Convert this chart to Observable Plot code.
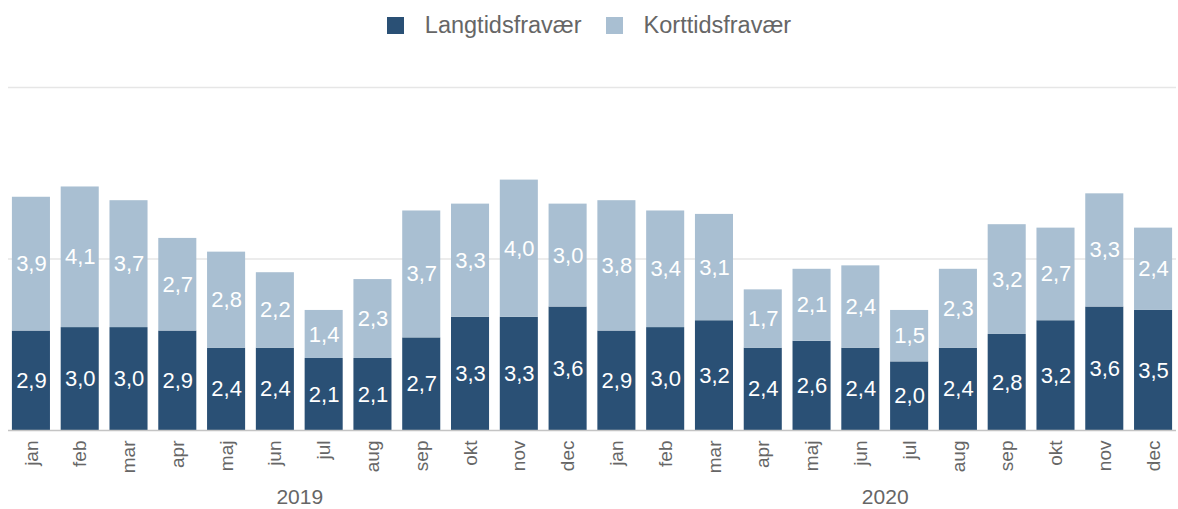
<!DOCTYPE html>
<html><head><meta charset="utf-8">
<script src="https://cdn.jsdelivr.net/npm/d3@7"></script>
<script src="https://cdn.jsdelivr.net/npm/@observablehq/plot@0.6"></script>
<style>
body{margin:0;background:#fff;font-family:"Liberation Sans",Arial,sans-serif;}
#legend{height:50px;display:flex;justify-content:center;align-items:center;gap:24px;font-size:23.5px;color:#666;}
.item{display:flex;align-items:center;gap:21px}
.sw{width:17px;height:17px;display:inline-block}
</style></head><body>
<div id="legend"></div><div id="chart"></div>
<script>
const years = ["2019", "2020"];
const months = ["jan","feb","mar","apr","maj","jun","jul","aug","sep","okt","nov","dec"];
const series = ["Langtidsfravær", "Korttidsfravær"];
const colors = ["#2a5075", "#a9bfd2"];
const long2019  = [2.9,3.0,3.0,2.9,2.4,2.4,2.1,2.1,2.7,3.3,3.3,3.6];
const short2019 = [3.9,4.1,3.7,2.7,2.8,2.2,1.4,2.3,3.7,3.3,4.0,3.0];
const long2020  = [2.9,3.0,3.2,2.4,2.6,2.4,2.0,2.4,2.8,3.2,3.6,3.5];
const short2020 = [3.8,3.4,3.1,1.7,2.1,2.4,1.5,2.3,3.2,2.7,3.3,2.4];
const gridTicks = [5, 10];

const valuesBy = {"2019": [long2019, short2019], "2020": [long2020, short2020]};
const keys = [];
const data = [];
for (const y of years) {
  months.forEach((m, i) => {
    const key = y + "-" + m;
    keys.push(key);
    series.forEach((s, j) => data.push({key, year: y, month: m, series: s, value: valuesBy[y][j][i]}));
  });
}
const fmt = v => d3.format(".1f")(v).replace(".", ",");

// legend
const lg = document.getElementById("legend");
series.forEach((s, i) => {
  const it = document.createElement("div"); it.className = "item";
  const sw = document.createElement("span"); sw.className = "sw"; sw.style.background = colors[i];
  const tx = document.createElement("span"); tx.textContent = s;
  it.append(sw, tx); lg.append(it);
});

const W = 1178, H = 459, mL = 8, mR = 2, pI = 0.22, pO = 0.08;
const step = d3.scaleBand().domain(keys).range([mL, W - mR]).paddingInner(pI).paddingOuter(pO).step();

const chart = Plot.plot({
  width: W, height: H,
  marginTop: 37, marginBottom: 79, marginLeft: mL, marginRight: mR,
  style: {fontFamily: "Liberation Sans, Arial, sans-serif", background: "#fff"},
  x: {domain: keys, paddingInner: pI, paddingOuter: pO, round: false},
  y: {domain: [0, 10], axis: null},
  color: {domain: series, range: colors},
  marks: [
    Plot.gridY(gridTicks, {stroke: "#e6e6e6", strokeOpacity: 1, strokeWidth: 1.5}),
    Plot.barY(data, {x: "key", y: "value", fill: "series", order: series}),
    Plot.text(data, Plot.stackY({x: "key", y: "value", z: "series", order: series,
      text: d => fmt(d.value), fill: "white", fontSize: 22})),
    Plot.ruleY([0], {stroke: "#c4c4c4", strokeWidth: 1.5}),
    Plot.axisX({tickFormat: k => k.split("-")[1], tickRotate: -90, tickSize: 0, tickPadding: 10,
      fontSize: 19, fill: "#666", label: null}),
    Plot.text(years, {x: y => y + "-jun", dx: step / 2, frameAnchor: "bottom", dy: 73,
      text: d => d, fontSize: 21, fill: "#666"})
  ]
});
document.getElementById("chart").append(chart);
</script>
</body></html>
